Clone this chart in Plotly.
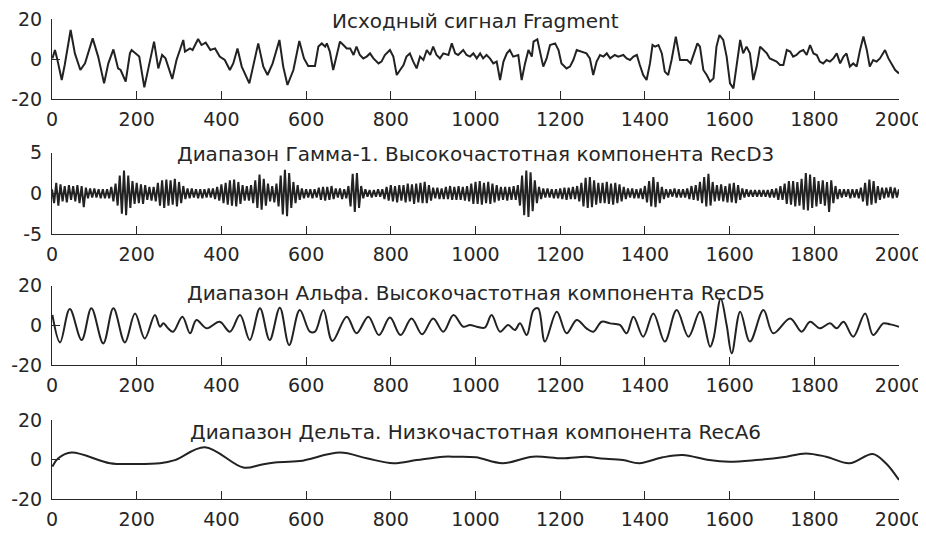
import plotly.graph_objects as go

# ---------------- data ----------------
x_ticks = [0, 200, 400, 600, 800, 1000, 1200, 1400, 1600, 1800, 2000]
titles = [
    "Исходный сигнал Fragment",
    "Диапазон Гамма-1. Высокочастотная компонента RecD3",
    "Диапазон Альфа. Высокочастотная компонента RecD5",
    "Диапазон Дельта. Низкочастотная компонента RecA6",
]

# Panel 1: original signal (read peaks/troughs)
frag_x = [1, 7, 12, 23, 30, 44, 54, 67, 78, 96, 109, 123, 133, 145, 156, 162, 174, 184, 188, 200,
          206, 218, 227, 241, 251, 260, 268, 284, 294, 310, 314, 326, 332, 345, 353, 363, 374, 385, 396, 408,
          420, 428, 438, 448, 466, 475, 487, 499, 509, 521, 537, 546, 556, 570, 584, 595, 605, 621, 629, 637,
          645, 649, 656, 664, 672, 680, 688, 696, 704, 712, 719, 727, 735, 743, 751, 759, 771, 778, 786, 798,
          806, 814, 822, 830, 837, 845, 853, 861, 869, 877, 885, 893, 900, 908, 916, 924, 936, 944, 952, 959,
          971, 979, 987, 995, 1003, 1011, 1018, 1026, 1034, 1042, 1050, 1058, 1066, 1074, 1081, 1089, 1101, 1109, 1117, 1125,
          1133, 1137, 1146, 1152, 1160, 1168, 1176, 1188, 1196, 1203, 1215, 1223, 1231, 1239, 1251, 1262, 1270, 1278, 1286, 1294,
          1302, 1310, 1318, 1329, 1337, 1349, 1357, 1365, 1373, 1381, 1388, 1396, 1404, 1412, 1418, 1424, 1432, 1440, 1447, 1455,
          1463, 1473, 1483, 1491, 1500, 1508, 1516, 1524, 1530, 1538, 1546, 1554, 1562, 1569, 1576, 1585, 1593, 1601, 1609, 1617,
          1625, 1632, 1640, 1648, 1656, 1664, 1672, 1680, 1688, 1695, 1703, 1711, 1719, 1727, 1735, 1743, 1750, 1758, 1766, 1774,
          1782, 1790, 1798, 1806, 1813, 1821, 1829, 1837, 1845, 1853, 1861, 1869, 1876, 1884, 1892, 1900, 1908, 1916, 1924, 1931,
          1939, 1947, 1955, 1967, 1975, 1983, 1991, 2000]
frag_y = [0.3, 4.5, 0.3, -10.5, -3, 14.5, 2.8, -5.5, -2.2, 10.3, 1.2, -12.2, -2.2, 4.8, -4.7, -5.5, -11.3, 2.8, 4.5, 2,
          1.2, -14.2, -5.5, 8.7, -4.7, 2, 0.3, -10, -0.5, 9.5, 3.7, 5.3, 4.5, 10, 7, 8.2, 4.5, 5.3, 1.2, -0.5,
          -5.5, -2.2, 5.3, -3.8, -12.2, -3.8, 7.8, -3.8, -8, -2.2, 9.5, -3.8, -13, -5.5, 9, 0.3, -3.5, -3.5, 6.2, 7.8,
          6.2, 7.8, 3.7, -5.5, 1.2, 8.7, 7, 5.3, 5.3, 2, 6.2, 2, 0.3, 1.2, 2.8, 0.3, -2.2, -1.3, 2, 4.5,
          1.2, -8, -5.5, -3, 1.2, 2.8, -1.3, -4.7, 1.2, -0.5, 4.5, 2, 6.2, 2, 0.3, 2.8, 2, 7.8, 2.8, 2,
          4.5, 2, 1.2, 2.8, 0.3, 2.8, 0.3, 2, 0.3, -2.2, -1.3, -10.5, -1.3, 2.8, 4.5, 1.2, 2, -10.5, -2.2, 4.5,
          1.2, 8.7, 9.8, 4.5, -3.8, 0.3, 7, 7.8, 4.5, -2.2, -4.7, -3.8, -0.5, 4.5, 3.7, 2.8, 0.3, -8, -1.3, 2,
          1.2, 2.8, 0.3, 2, 1.2, 2, 0.3, -0.5, 1.2, 2, -3, -8, -10.5, -2.2, 7, 6.2, 7, 2.8, -6.3, -8,
          -0.5, 11.2, -0.5, -0.5, -0.5, -2.2, 2.8, 7.8, 6.2, -5.5, -8, -11.3, -9.7, 6.2, 12, 9.5, 1.2, -12.2, -14.7, -3.8,
          9.5, 2.8, 6.2, 2.8, -10.5, -3.8, 6.2, 4.5, 2.8, 0.3, -0.5, -1.3, -3, -3, 4.5, 3.7, 1.2, 2, 3.7, 4.5,
          2, 7, 2.8, 2, -1.3, -2.2, -0.5, -1.3, 0.3, 2.8, -2.2, 1.2, 2.8, -3.8, -2.2, -3.8, 4.5, 11.2, 4.5, -3.8,
          -0.5, -1.3, 0.3, 4.5, 0.3, -3, -5.5, -7.2]

recd3_y = [
    0.5, -1.2, 1.3, -1.5, 1.1, -1.0, 0.9, -1.1, 1.0, -0.8,
    0.9, -1.0, 1.0, -1.2, 0.9, -1.7, 0.7, -0.6, 0.6, -0.5,
    0.6, -0.5, 0.5, -0.6, 0.5, -0.6, 0.5, -0.6, 0.8, -1.0,
    1.2, -1.5, 2.2, -2.5, 2.8, -2.7, 2.2, -1.8, 1.5, -1.3,
    1.3, -1.2, 1.1, -1.3, 1.0, -0.8, 0.8, -0.9, 0.8, -1.0,
    1.3, -1.5, 1.6, -1.8, 1.7, -1.5, 1.6, -1.4, 1.8, -1.6,
    1.4, -1.2, 0.9, -0.7, 0.6, -0.6, 0.6, -0.5, 0.5, -0.6,
    0.5, -0.6, 0.5, -0.5, 0.6, -0.5, 0.6, -0.7, 0.8, -0.9,
    1.1, -1.2, 1.3, -1.4, 1.6, -1.5, 1.7, -1.6, 1.4, -1.3,
    1.0, -0.9, 0.9, -0.9, 1.0, -1.2, 1.6, -1.8, 2.3, -2.0,
    1.8, -1.5, 1.2, -1.0, 0.9, -1.1, 1.2, -1.6, 2.2, -2.6,
    2.9, -2.8, 2.5, -1.8, 1.4, -1.2, 1.0, -0.8, 0.6, -0.6,
    0.5, -0.5, 0.5, -0.6, 0.5, -0.5, 0.7, -0.8, 0.8, -0.9,
    0.8, -0.8, 0.9, -0.7, 0.6, -0.5, 0.6, -0.7, 0.5, -0.6,
    0.9, -1.6, 2.4, -2.3, 2.5, -1.8, 0.9, -0.6, 0.5, -0.4,
    0.4, -0.5, 0.4, -0.4, 0.5, -0.4, 0.5, -0.7, 0.8, -0.9,
    1.0, -1.0, 0.9, -1.1, 1.0, -0.9, 1.0, -1.1, 1.2, -1.0,
    1.1, -1.3, 1.2, -1.1, 1.3, -1.2, 1.4, -1.2, 1.0, -0.9,
    0.7, -0.6, 0.7, -0.7, 0.6, -0.7, 0.8, -0.7, 0.9, -0.8,
    0.8, -0.8, 0.9, -0.8, 0.8, -0.9, 0.9, -1.0, 1.2, -1.3,
    1.4, -1.3, 1.5, -1.4, 1.3, -1.2, 1.4, -1.3, 1.2, -1.1,
    1.0, -0.9, 0.8, -0.8, 0.8, -0.9, 0.8, -0.8, 0.9, -0.8,
    1.0, -1.5, 2.2, -2.7, 2.8, -2.9, 2.6, -2.2, 1.6, -1.2,
    0.8, -0.7, 0.6, -0.5, 0.6, -0.5, 0.5, -0.6, 0.5, -0.6,
    0.6, -0.7, 0.7, -0.8, 0.7, -0.7, 0.8, -0.7, 0.9, -1.0,
    1.3, -1.6, 1.9, -1.8, 2.0, -1.7, 1.6, -1.4, 1.3, -1.2,
    1.3, -1.2, 1.4, -1.3, 1.2, -1.4, 1.3, -1.2, 1.1, -1.0,
    0.8, -0.7, 0.6, -0.5, 0.6, -0.6, 0.5, -0.6, 0.6, -0.7,
    0.9, -1.1, 1.5, -1.6, 2.0, -1.7, 1.4, -1.2, 0.8, -0.7,
    0.5, -0.5, 0.5, -0.4, 0.6, -0.5, 0.5, -0.5, 0.5, -0.5,
    0.6, -0.7, 0.9, -0.8, 1.0, -0.9, 1.4, -1.2, 2.0, -1.6,
    2.4, -1.5, 1.4, -1.0, 1.0, -0.9, 1.1, -1.0, 0.9, -1.1,
    1.2, -1.1, 1.3, -1.2, 1.0, -0.8, 0.6, -0.5, 0.5, -0.4,
    0.4, -0.4, 0.4, -0.4, 0.4, -0.4, 0.4, -0.4, 0.4, -0.5,
    0.5, -0.5, 0.6, -0.8, 0.9, -0.8, 1.2, -1.3, 1.5, -1.4,
    1.5, -1.6, 1.4, -1.5, 1.8, -2.0, 2.5, -2.1, 2.3, -1.8,
    2.0, -1.6, 1.5, -1.3, 1.6, -1.5, 1.4, -2.3, 1.6, -1.2,
    0.9, -0.7, 0.5, -0.5, 0.5, -0.4, 0.5, -0.6, 0.5, -0.5,
    0.5, -0.6, 0.7, -1.0, 1.3, -1.5, 1.7, -1.4, 1.5, -1.2,
    0.9, -0.8, 0.7, -0.6, 0.7, -0.5, 0.8, -0.6, 0.7, -0.5,
    0.5,
]

# Panel 3: RecD5 (alpha) peaks/troughs
recd5_x = [1, 19, 42, 70, 93, 121, 145, 172, 196, 219, 243, 255, 263, 274, 286, 308, 326, 341, 365, 396,
           420, 444, 467, 491, 514, 538, 560, 585, 609, 621, 641, 662, 696, 719, 747, 772, 798, 823, 849, 874,
           900, 924, 948, 971, 987, 1003, 1022, 1038, 1058, 1077, 1093, 1105, 1121, 1137, 1148, 1164, 1192, 1215, 1239, 1262,
           1278, 1298, 1318, 1341, 1357, 1373, 1396, 1420, 1447, 1475, 1503, 1530, 1554, 1562, 1579, 1593, 1605, 1625, 1648, 1680,
           1703, 1743, 1770, 1790, 1813, 1837, 1853, 1869, 1892, 1920, 1939, 1963, 1979, 2000]
recd5_y = [5.2, -8.6, 8.2, -7.4, 8.6, -9.1, 8.6, -8.6, 6.0, -6.6, 5.2, -0.7, 1.0, -1.5, -3.2, 4.4, -4.0, 2.7, -1.5, 1.8,
           -3.2, 5.2, -7.4, 8.6, -7.4, 8.9, -9.9, 7.7, -3.2, -3.2, 7.7, -7.9, 4.4, -4.0, 4.4, -4.9, 3.9, -4.9, 3.5, -4.5,
           3.5, -3.2, 5.2, -0.7, 0.2, -0.7, -1.2, 5.2, -3.2, 0.2, -2.4, 1.0, -4.9, 7.7, 8.6, -8.2, 6.9, -4.0, 2.7, -1.5,
           -3.2, 1.8, 1.0, 0.2, -4.0, 4.4, -5.7, 6.0, -8.2, 7.7, -5.7, 6.9, -10.8, -6.6, 13.6, 0.2, -14.1, 6.9, -8.2, 7.7,
           -4.0, 3.5, -3.2, 1.8, -1.5, 1.0, -1.5, 1.8, -5.7, 6.0, -4.9, 1.0, 0.5, -0.7]

# Panel 4: RecA6 (delta) smooth component
reca6_x = [1, 15, 46, 137, 192, 255, 290, 361, 452, 491, 522, 585, 680, 743, 806, 861, 924, 954, 1001, 1064,
           1135, 1206, 1261, 1292, 1348, 1387, 1442, 1489, 1552, 1599, 1662, 1725, 1780, 1828, 1883, 1938, 1969, 2000]
reca6_y = [-3.6, 0.6, 3.5, -1.9, -2.3, -1.9, -0.3, 6.2, -4.1, -2.8, -1.6, -0.8, 3.5, 0.6, -1.9, -0.3, 1.4, 1.4, 1.1, -1.9,
           1.4, 0.6, 1.4, 0.6, -0.3, -1.9, 1.1, 2.3, -0.3, -1.1, -0.3, 1.1, 3.1, 1.4, -1.9, 2.8, -1.9, -10.4]

y_ranges = [[-20, 20], [-5, 5], [-20, 20], [-20, 20]]
y_tickvals = [[-20, 0, 20], [-5, 0, 5], [-20, 0, 20], [-20, 0, 20]]
y_ticktext = [["-20", "0", "20"], ["-5", "0", "5"], ["-20", "0", "20"], ["-20", "0", "20"]]

# ---------------- layout geometry (page pixels; page body has an 8px margin) ----------------
PAGE_OFF = 8
W, H = 926 - PAGE_OFF, 537 - PAGE_OFF
X_L, X_R = 52 - PAGE_OFF, 899 - PAGE_OFF
panels_px = [(19, 99), (152.7, 234), (285.7, 365), (420, 499)]
title_px = [21, 154, 293, 432]
AX = "#262626"
LINE = "#222222"
FONT = "DejaVu Sans, Liberation Sans, Arial, sans-serif"

fig = go.Figure()

traces = [
    dict(x=frag_x, y=frag_y, line_shape="linear"),
    dict(y=recd3_y, x0=0, dx=5, line_shape="linear"),
    dict(x=recd5_x, y=recd5_y, line_shape="spline"),
    dict(x=reca6_x, y=reca6_y, line_shape="spline"),
]
for i, t in enumerate(traces):
    n = "" if i == 0 else str(i + 1)
    shape = t.pop("line_shape")
    fig.add_trace(go.Scatter(mode="lines", line=dict(color=LINE, width=2, shape=shape),
                             xaxis="x" + n, yaxis="y" + n, showlegend=False, hoverinfo="skip", **t))

layout = dict(width=W, height=H, margin=dict(l=0, r=0, t=0, b=0, autoexpand=False),
              paper_bgcolor="white", plot_bgcolor="white", template="none",
              font=dict(family=FONT, color=AX, size=18), annotations=[])
for i, (top, bot) in enumerate(panels_px):
    n = "" if i == 0 else str(i + 1)
    top -= PAGE_OFF
    bot -= PAGE_OFF
    layout["xaxis" + n] = dict(domain=[X_L / W, X_R / W], range=[0, 2000], tickvals=x_ticks,
                               ticktext=[str(v) for v in x_ticks],
                               ticks="inside", ticklen=8, tickcolor=AX, tickwidth=1, showline=True, linecolor=AX,
                               linewidth=1, showgrid=False, zeroline=False, anchor="y" + n, automargin=False,
                               tickfont=dict(size=19, family=FONT, color=AX), ticklabelstandoff=3,
                               ticklabeloverflow="allow")
    layout["yaxis" + n] = dict(domain=[1 - bot / H, 1 - top / H], range=y_ranges[i], tickvals=y_tickvals[i],
                               ticktext=y_ticktext[i],
                               ticks="inside", ticklen=8, tickcolor=AX, tickwidth=1, showline=True, linecolor=AX,
                               linewidth=1, showgrid=False, zeroline=False, anchor="x" + n, automargin=False,
                               tickfont=dict(size=19, family=FONT, color=AX), ticklabelstandoff=5,
                               ticklabeloverflow="allow")
    layout["annotations"].append(dict(text=titles[i], xref="paper", yref="paper",
                                      x=(X_L + X_R) / 2 / W, y=1 - (title_px[i] - PAGE_OFF) / H,
                                      xanchor="center", yanchor="middle", showarrow=False,
                                      font=dict(size=20, family=FONT, color=AX)))
fig.update_layout(**layout)
fig.write_html("out.html")
